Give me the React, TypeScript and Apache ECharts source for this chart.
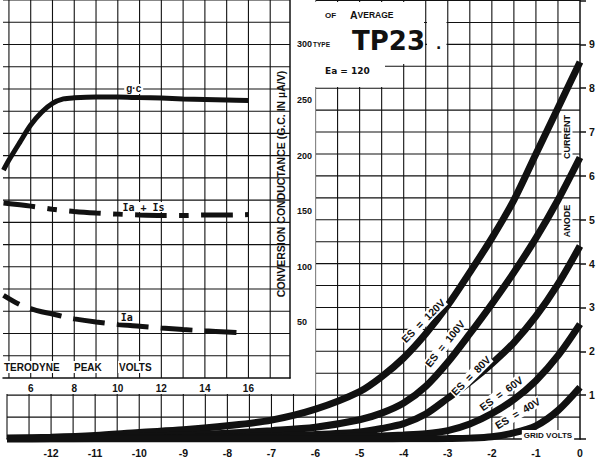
import React, { useEffect, useRef } from 'react';
import * as echarts from 'echarts';

// ---- Main chart: anode current (mA) vs grid volts ----
const gridVolts = [-13, -12, -11, -10, -9, -8, -7, -6, -5, -4.5, -4, -3.5, -3, -2.5, -2, -1.5, -1, -0.5, 0];
const es120 = [0.02, 0.04, 0.08, 0.15, 0.21, 0.3, 0.43, 0.68, 1.08, 1.42, 1.85, 2.4, 3.05, 3.8, 4.58, 5.45, 6.5, 7.55, 8.6];
const es100 = [0.01, 0.02, 0.04, 0.06, 0.09, 0.13, 0.19, 0.27, 0.44, 0.59, 0.82, 1.2, 1.75, 2.4, 3.08, 3.8, 4.58, 5.45, 6.42];
const es80 = [0.005, 0.01, 0.015, 0.02, 0.03, 0.05, 0.07, 0.1, 0.16, 0.24, 0.35, 0.57, 0.93, 1.3, 1.72, 2.2, 2.8, 3.53, 4.4];
const es60 = [0, 0.005, 0.01, 0.01, 0.015, 0.02, 0.03, 0.04, 0.06, 0.07, 0.09, 0.12, 0.19, 0.34, 0.58, 0.9, 1.33, 1.9, 2.62];
const es40 = [0, 0, 0, 0, 0, 0, 0, 0, 0, 0, 0.003, 0.005, 0.01, 0.02, 0.05, 0.14, 0.3, 0.65, 1.18];

const gridVoltTicks = [-12, -11, -10, -9, -8, -7, -6, -5, -4, -3, -2, -1, 0];
const gridVoltLabels = ['-12', '-11', '-10', '-9', '-8', '-7', '-6', '-5', '-4', '-3', '-2', '-1', '0'];
const anodeTicks = [1, 2, 3, 4, 5, 6, 7, 8, 9];
const anodeLabels = ['1', '2', '3', '4', '5', '6', '7', '8', '9'];

// ---- Inset: vs heterodyne peak volts ----
const gcVolts = [4.75, 5, 5.5, 6, 6.5, 7, 7.5, 8, 9, 10, 11, 12, 13, 14, 15, 16];
const gcValues = [187, 196, 212, 227.5, 239, 247, 251, 252, 252.7, 252.7, 252.2, 251.8, 251, 250.5, 250, 249.5];
const iaVolts = [4.75, 5.5, 6, 6.5, 7, 7.5, 8, 9, 10, 11, 12, 13, 14, 15, 16];
const iaValues = [3.72, 3.3, 3.12, 2.98, 2.88, 2.76, 2.66, 2.52, 2.41, 2.33, 2.25, 2.18, 2.12, 2.07, 2.02];
const iaIsVolts = [4.75, 6, 7, 8, 9, 10, 11, 12, 13, 14, 15, 16];
const iaIsValues = [7.87, 7.73, 7.59, 7.49, 7.42, 7.37, 7.33, 7.31, 7.31, 7.33, 7.33, 7.35];

const hetTicks = [6, 8, 10, 12, 14, 16];
const hetLabels = ['6', '8', '10', '12', '14', '16'];
const gcTicks = [50, 100, 150, 200, 250, 300];
const gcLabels = ['50', '100', '150', '200', '250', '300'];

const curveLabels = [
  { text: 'ES  =  120V', at: [-3.55, 2.69], angle: 45 },
  { text: 'ES  =  100V', at: [-3.06, 2.17], angle: 51 },
  { text: 'ES  =  80V', at: [-2.47, 1.44], angle: 45 },
  { text: 'ES  =  60V', at: [-1.79, 1.04], angle: 36 },
  { text: 'ES  =  40V', at: [-1.41, 0.58], angle: 31 },
];

const FONT = '"Liberation Sans", Arial, sans-serif';
const INK = '#111';

function pick(ticks: number[], labels: string[]) {
  return (v: number) => {
    const i = ticks.findIndex((t) => Math.abs(t - v) < 1e-6);
    return i >= 0 ? labels[i] : '';
  };
}

// graph-paper rulings (axis scaffolding, not data)
function steps(a: number, b: number, s: number) {
  const out: number[] = [];
  for (let i = 0; a + i * s <= b + 1e-9; i++) out.push(Math.round((a + i * s) * 1000) / 1000);
  return out;
}

function ruling(xIdx: number, yIdx: number, vert: number[], horiz: number[], xr: number[], yr: number[], z: number) {
  return {
    type: 'custom',
    xAxisIndex: xIdx,
    yAxisIndex: yIdx,
    z,
    silent: true,
    clip: false,
    data: [...vert.map((v) => [v, 0]), ...horiz.map((h) => [h, 1])],
    renderItem: (_p: any, api: any) => {
      const v = api.value(0);
      const o = api.value(1);
      const a = o === 0 ? api.coord([v, yr[0]]) : api.coord([xr[0], v]);
      const b = o === 0 ? api.coord([v, yr[1]]) : api.coord([xr[1], v]);
      return {
        type: 'line',
        shape: { x1: a[0], y1: a[1], x2: b[0], y2: b[1] },
        style: { stroke: INK, lineWidth: 1.1 },
      };
    },
  };
}

export default function App() {
  const ref = useRef<HTMLDivElement>(null);
  useEffect(() => {
    const chart = echarts.init(ref.current!, null, { renderer: 'svg' });
    const mainCurve = (name: string, vals: number[]) => ({
      type: 'line',
      name,
      xAxisIndex: 0,
      yAxisIndex: 0,
      data: gridVolts.map((v, i) => [v, vals[i]]),
      symbol: 'none',
      smooth: 0.3,
      silent: true,
      z: 2,
      lineStyle: { color: INK, width: 7, cap: 'butt' },
    });
    const axisTextStyle = { color: INK, fontFamily: FONT, fontWeight: 'bold' as const };
    const insetMin = 4 + 16 / 22;
    const insetMax = 4 + 306 / 22;

    chart.setOption({
      animation: false,
      backgroundColor: '#fff',
      grid: [
        { left: 7, right: 19, top: 0.5, bottom: 20 },
        { left: 0, right: 309, top: 0, bottom: 81 },
      ],
      xAxis: [
        {
          gridIndex: 0, type: 'value', min: -13, max: 0, interval: 1, z: 0,
          axisLine: { show: true, onZero: false, lineStyle: { color: INK, width: 1.5 } },
          axisTick: { show: false },
          splitLine: { show: false },
          axisLabel: {
            ...axisTextStyle, fontSize: 10.5, margin: 8, showMaxLabel: true, showMinLabel: true,
            formatter: pick(gridVoltTicks, gridVoltLabels),
          },
        },
        {
          gridIndex: 1, type: 'value', min: insetMin, max: insetMax, minInterval: 2, maxInterval: 2, z: 3,
          axisLine: { show: true, onZero: false, lineStyle: { color: INK, width: 1.5 } },
          axisTick: { show: false },
          splitLine: { show: false },
          axisLabel: { ...axisTextStyle, fontSize: 10, margin: 5, formatter: pick(hetTicks, hetLabels) },
        },
      ],
      yAxis: [
        {
          gridIndex: 0, type: 'value', min: 0, max: 10, interval: 1, position: 'right', z: 0,
          axisLine: { show: true, lineStyle: { color: INK, width: 1.5 } },
          axisTick: { show: true, length: 6, lineStyle: { color: INK, width: 1.5 } },
          splitLine: { show: false },
          axisLabel: { ...axisTextStyle, fontSize: 10.5, margin: 9, formatter: pick(anodeTicks, anodeLabels) },
        },
        {
          gridIndex: 1, type: 'value', min: 0, max: 340, interval: 50, position: 'right', z: 3,
          axisLine: { show: true, lineStyle: { color: INK, width: 1.5 } },
          axisTick: { show: false },
          splitLine: { show: false },
          axisLabel: { ...axisTextStyle, fontSize: 9, margin: 7, formatter: pick(gcTicks, gcLabels) },
        },
        { gridIndex: 1, type: 'value', min: 0, max: 17, show: false },
      ],
      series: [
        ruling(0, 0, steps(-13, -0.5, 0.5), steps(0.5, 10, 0.5), [-13, 0], [0, 10], 0),
        ruling(1, 1, steps(5, 17, 1), steps(20, 340, 20), [insetMin, insetMax], [0, 340], 3),
        mainCurve('Es = 120V', es120),
        mainCurve('Es = 100V', es100),
        mainCurve('Es = 80V', es80),
        mainCurve('Es = 60V', es60),
        mainCurve('Es = 40V', es40),
        {
          type: 'line', name: 'g.c', xAxisIndex: 1, yAxisIndex: 1, z: 4, silent: true,
          data: gcVolts.map((v, i) => [v, gcValues[i]]),
          symbol: 'none', smooth: 0.3,
          lineStyle: { color: INK, width: 5 },
        },
        {
          type: 'line', name: 'Ia + Is', xAxisIndex: 1, yAxisIndex: 2, z: 4, silent: true,
          data: iaIsVolts.map((v, i) => [v, iaIsValues[i]]),
          symbol: 'none', smooth: 0.3,
          lineStyle: { color: INK, width: 5, type: [32, 12, 10, 12], cap: 'butt' },
        },
        {
          type: 'line', name: 'Ia', xAxisIndex: 1, yAxisIndex: 2, z: 4, silent: true,
          data: iaVolts.map((v, i) => [v, iaValues[i]]),
          symbol: 'none', smooth: 0.3,
          lineStyle: { color: INK, width: 5, type: [32, 12], dashOffset: 14, cap: 'butt' },
        },
      ],
    });

    const white = { fill: '#fff' };
    const txt = (x: number, y: number, text: string, size: number, extra: any = {}, z = 10) => ({
      type: 'text', x, y, z, silent: true,
      style: {
        text, fontSize: size, fontFamily: FONT, fontWeight: 'bold', fill: INK,
        align: 'left', verticalAlign: 'middle', ...extra,
      },
    });

    const dynamic: any[] = [];
    curveLabels.forEach((c) => {
      const p = chart.convertToPixel({ xAxisIndex: 0, yAxisIndex: 0 }, c.at as any) as number[];
      dynamic.push({
        ...txt(p[0], p[1], c.text, 10.5, { align: 'center', backgroundColor: '#fff', padding: [0, 1] }),
        rotation: (c.angle * Math.PI) / 180,
      });
    });
    const gcP = chart.convertToPixel({ xAxisIndex: 1, yAxisIndex: 1 }, [10.73, 260]) as number[];
    dynamic.push(txt(gcP[0], gcP[1], 'g·c', 10, { align: 'center', backgroundColor: '#fff', padding: [0, 2] }));
    const mono = { fontWeight: 'bold', fontFamily: '"DejaVu Sans Mono", monospace' };
    const iaIsP = chart.convertToPixel({ xAxisIndex: 1, yAxisIndex: 2 }, [11.18, 7.69]) as number[];
    dynamic.push(txt(iaIsP[0], iaIsP[1], 'Ia + Is', 10, { align: 'center', backgroundColor: '#fff', padding: [0, 2], ...mono }));
    const iaP = chart.convertToPixel({ xAxisIndex: 1, yAxisIndex: 2 }, [10.41, 2.72]) as number[];
    dynamic.push(txt(iaP[0], iaP[1], 'Ia', 10, { align: 'center', backgroundColor: '#fff', padding: [0, 2], ...mono }));

    chart.setOption({
      graphic: {
        elements: [
          { type: 'rect', z: 1, silent: true, shape: { x: 0, y: 0, width: 315.5, height: 394 }, style: white },
          { type: 'rect', z: 1, silent: true, shape: { x: 315, y: 2, width: 109, height: 62 }, style: white },
          { type: 'rect', z: 1, silent: true, shape: { x: 427, y: 2, width: 19.5, height: 58 }, style: white },
          { type: 'rect', z: 1, silent: true, shape: { x: 315, y: 58, width: 70, height: 29 }, style: white },
          txt(325, 15, 'OF', 8),
          txt(350, 15, '{a|A}{v|VERAGE}', 9, {
            rich: {
              a: { fontSize: 10.5, fontFamily: FONT, fontWeight: 'bold', fill: INK },
              v: { fontSize: 8.5, fontFamily: FONT, fontWeight: 'bold', fill: INK },
            },
          }),
          txt(313, 44, 'TYPE', 6.5),
          txt(352, 41, 'TP23', 26, { fontFamily: '"DejaVu Sans", sans-serif', backgroundColor: '#fff' }),
          txt(436, 44, '.', 14, { fontFamily: '"DejaVu Sans", sans-serif' }),
          txt(325, 71, 'Ea = 120', 9, { fontFamily: '"DejaVu Sans", sans-serif' }),
          txt(3, 367, 'TERODYNE', 10, { backgroundColor: '#fff', padding: [1, 1] }),
          txt(73, 367, 'PEAK', 10, { backgroundColor: '#fff', padding: [1, 1] }),
          txt(118, 367, 'VOLTS', 10, { backgroundColor: '#fff', padding: [1, 1] }),
          {
            ...txt(281, 184, 'CONVERSION CONDUCTANCE (G.C. IN \u00b5A/V)', 10.5, { align: 'center' }),
            rotation: Math.PI / 2,
          },
          {
            ...txt(567, 137, 'CURRENT', 9, { align: 'center', backgroundColor: '#fff', padding: [1, 1] }),
            rotation: Math.PI / 2,
          },
          {
            ...txt(567, 221, 'ANODE', 9, { align: 'center', backgroundColor: '#fff', padding: [1, 1] }),
            rotation: Math.PI / 2,
          },
          txt(548, 435, 'GRID VOLTS', 8, { align: 'center', backgroundColor: '#fff', padding: [1, 2] }),
          ...dynamic,
        ],
      },
    });

    return () => chart.dispose();
  }, []);

  return <div ref={ref} style={{ width: 599, height: 459, position: 'absolute', left: 0, top: 0 }} />;
}
